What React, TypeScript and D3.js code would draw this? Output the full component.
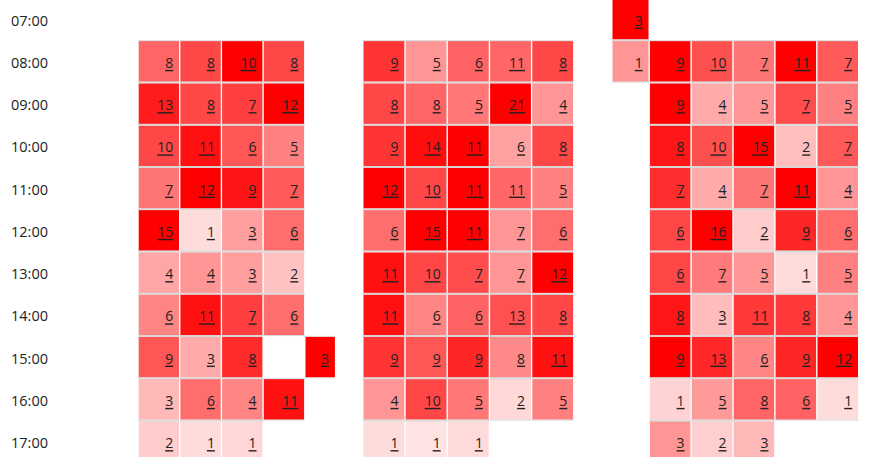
import React from "react";
import * as d3 from "d3";

// Row categories
const hours = ["07:00", "08:00", "09:00", "10:00", "11:00", "12:00", "13:00", "14:00", "15:00", "16:00", "17:00"];

// Column values (one array per column, aligned with hours; null = no value)
const w1d1 = [null, 8, 13, 10, 7, 15, 4, 6, 9, 3, 2];
const w1d2 = [null, 8, 8, 11, 12, 1, 4, 11, 3, 6, 1];
const w1d3 = [null, 10, 7, 6, 9, 3, 3, 7, 8, 4, 1];
const w1d4 = [null, 8, 12, 5, 7, 6, 2, 6, null, 11, null];
const w1d5 = [null, null, null, null, null, null, null, null, 3, null, null];
const w2d1 = [null, 9, 8, 9, 12, 6, 11, 11, 9, 4, 1];
const w2d2 = [null, 5, 8, 14, 10, 15, 10, 6, 9, 10, 1];
const w2d3 = [null, 6, 5, 11, 11, 11, 7, 6, 9, 5, 1];
const w2d4 = [null, 11, 21, 6, 11, 7, 7, 13, 8, 2, null];
const w2d5 = [null, 8, 4, 8, 5, 6, 12, 8, 11, 5, null];
const w3d0 = [3, 1, null, null, null, null, null, null, null, null, null];
const w3d1 = [null, 9, 9, 8, 7, 6, 6, 8, 9, 1, 3];
const w3d2 = [null, 10, 4, 10, 4, 16, 7, 3, 13, 5, 2];
const w3d3 = [null, 7, 5, 15, 7, 2, 5, 11, 6, 8, 3];
const w3d4 = [null, 11, 7, 2, 11, 9, 1, 8, 9, 6, null];
const w3d5 = [null, 7, 5, 7, 4, 6, 5, 4, 12, 1, null];

const columnIds = ["w1d1", "w1d2", "w1d3", "w1d4", "w1d5", "gapA", "w2d1", "w2d2", "w2d3", "w2d4", "w2d5", "gapB", "w3d0", "w3d1", "w3d2", "w3d3", "w3d4", "w3d5"];
const columnValues: Record<string, (number | null)[]> = {
  w1d1, w1d2, w1d3, w1d4, w1d5, w2d1, w2d2, w2d3, w2d4, w2d5, w3d0, w3d1, w3d2, w3d3, w3d4, w3d5,
};

// Layout (column widths in px)
const layoutWidths = [41.7, 41.7, 41.7, 41.7, 30.8, 27.2, 42.2, 42.2, 42.2, 42.2, 42.2, 38, 37.4, 41.9, 41.9, 41.9, 41.9, 41.9];

const W = 870;
const H = 457;
const LEFT = 138;
const TOP = -2;
const ROW = 42.25;
const FONT = "'Segoe UI', 'Open Sans', 'Noto Sans', sans-serif";

export default function App() {
  const starts = layoutWidths.reduce<number[]>((acc, w, i) => {
    acc.push(i === 0 ? LEFT : acc[i - 1] + layoutWidths[i - 1]);
    return acc;
  }, []);
  const xStart = d3.scaleOrdinal<string, number>().domain(columnIds).range(starts);
  const xWidth = d3.scaleOrdinal<string, number>().domain(columnIds).range(layoutWidths);
  const y = d3.scaleBand<string>().domain(hours).range([TOP, TOP + ROW * hours.length]).padding(0);
  const red = d3.interpolateRgb("#ffffff", "#ff0000");

  const cells: React.ReactNode[] = [];
  columnIds.forEach((id) => {
    const vals = columnValues[id];
    if (!vals) return;
    const max = d3.max(vals, (v) => (v == null ? undefined : v)) || 1;
    const color = d3.scalePow().exponent(0.8).domain([0, max]).range([0, 1]);
    const x0 = xStart(id);
    const w = xWidth(id);
    vals.forEach((v, i) => {
      if (v == null) return;
      const y0 = y(hours[i])!;
      const h = y.bandwidth();
      cells.push(
        <g key={id + i}>
          <rect x={x0 + 0.7} y={y0 + 0.8} width={w - 1.4} height={h - 1.6} fill={red(color(v))} />
          <line x1={x0} x2={x0 + w} y1={y0 + 0.4} y2={y0 + 0.4} stroke="#d4d4d4" strokeWidth={0.9} />
          <line x1={x0} x2={x0 + w} y1={y0 + h - 0.4} y2={y0 + h - 0.4} stroke="#d4d4d4" strokeWidth={0.9} />
          <text
            x={x0 + w - 6.5}
            y={y0 + h / 2 + 1}
            textAnchor="end"
            dominantBaseline="central"
            fontFamily={FONT}
            fontSize={14}
            fill="#222"
            style={{ textDecoration: "underline" }}
          >
            {v}
          </text>
        </g>
      );
    });
  });

  return (
    <svg width={W} height={H} style={{ position: "absolute", left: 0, top: 0, display: "block" }}>
      <rect x={0} y={0} width={W} height={H} fill="#ffffff" />
      {hours.map((hr) => (
        <text
          key={hr}
          x={11}
          y={y(hr)! + y.bandwidth() / 2 + 1}
          dominantBaseline="central"
          fontFamily={FONT}
          fontSize={14.5}
          fill="#222"
        >
          {hr}
        </text>
      ))}
      {cells}
    </svg>
  );
}
